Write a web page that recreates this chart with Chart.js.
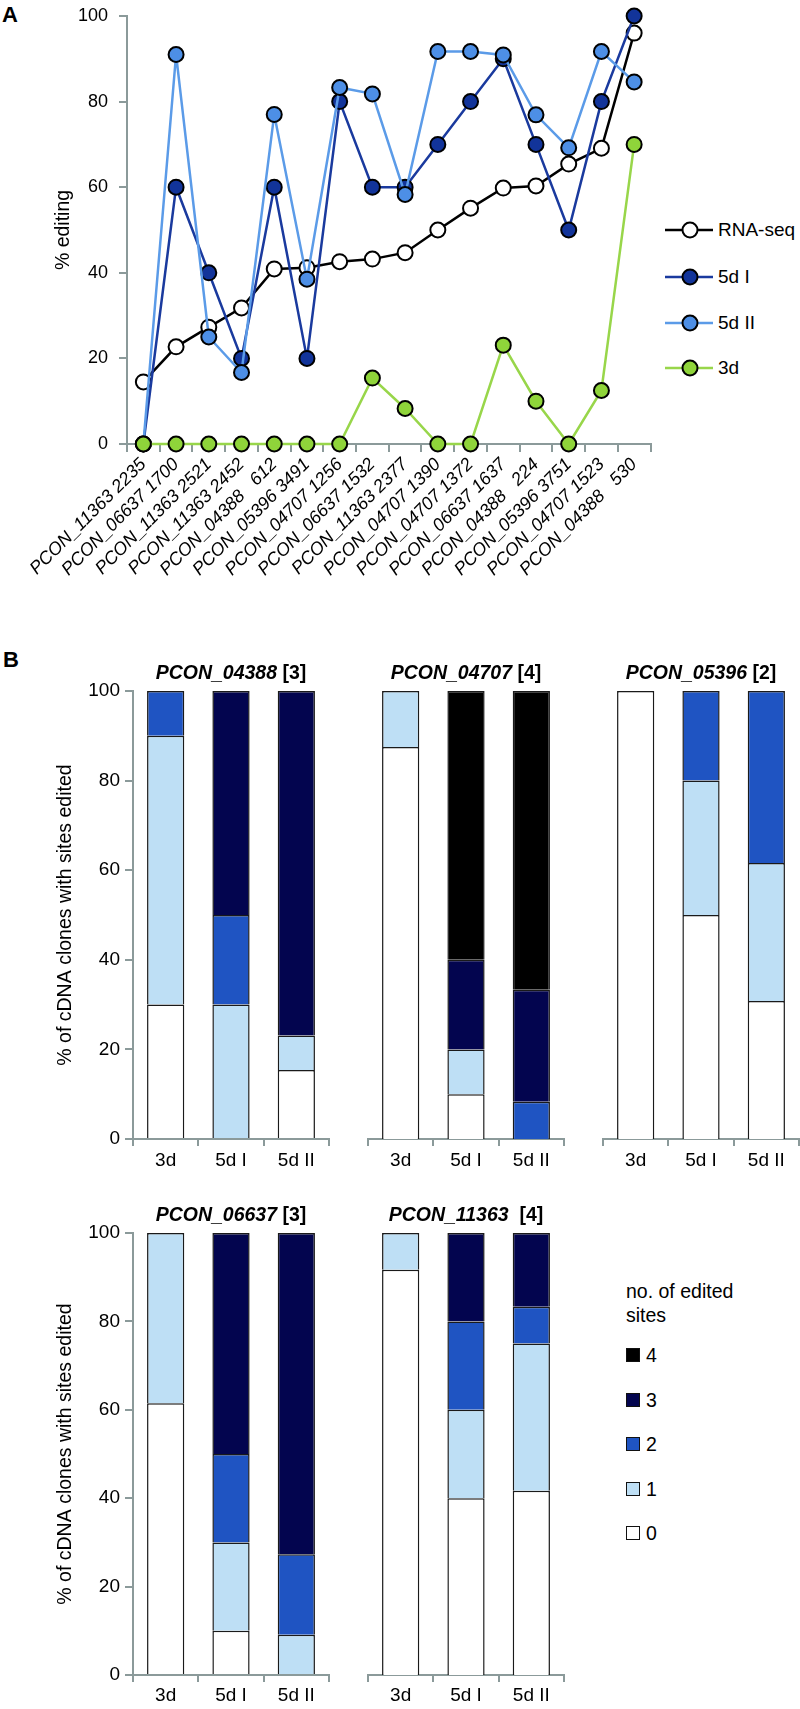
<!DOCTYPE html>
<html>
<head>
<meta charset="utf-8">
<script src="https://cdn.jsdelivr.net/npm/chart.js@4"></script>
<style>
  html, body { margin: 0; padding: 0; background: #fff; }
  body { width: 800px; height: 1709px; position: relative; overflow: hidden;
         font-family: 'Liberation Sans', Arial, Helvetica, sans-serif; color: #000; }
  canvas { position: absolute; }
  .panel { position: absolute; font-weight: bold; font-size: 22px; line-height: 22px; }
  .ttl { position: absolute; font-weight: bold; font-size: 19.5px; line-height: 24px;
         text-align: center; white-space: nowrap; }
  .leg { position: absolute; font-size: 19.5px; line-height: 24px; white-space: nowrap; }
  .legA { position: absolute; left: 665px; height: 24px; display: flex; align-items: center;
          font-size: 19px; white-space: nowrap; }
  .legA svg { display: block; margin-right: 5px; }
  .legB { position: absolute; left: 626px; height: 24px; display: flex; align-items: center;
          font-size: 19.5px; }
  .legB .sq { width: 12px; height: 12px; border: 1.5px solid #111; margin-right: 6px; }
</style>
</head>
<body>

<div class="panel" style="left:2px; top:4px;">A</div>
<div class="panel" style="left:3px; top:649px;">B</div>

<canvas id="chartA" width="660" height="580" style="left:0px; top:0px;"></canvas>
<div id="legendA"></div>

<canvas id="b04388" width="340" height="500" style="left:0px; top:680px;"></canvas>
<canvas id="b04707" width="216" height="500" style="left:358px; top:680px;"></canvas>
<canvas id="b05396" width="207" height="500" style="left:593px; top:680px;"></canvas>
<canvas id="b06637" width="340" height="487" style="left:0px; top:1222px;"></canvas>
<canvas id="b11363" width="216" height="487" style="left:358px; top:1222px;"></canvas>

<div class="ttl" style="left:133px; top:660px; width:196px;"><i>PCON_04388</i> [3]</div>
<div class="ttl" style="left:368px; top:660px; width:196px;"><i>PCON_04707</i> [4]</div>
<div class="ttl" style="left:603px; top:660px; width:196px;"><i>PCON_05396</i> [2]</div>
<div class="ttl" style="left:133px; top:1202px; width:196px;"><i>PCON_06637</i> [3]</div>
<div class="ttl" style="left:368px; top:1202px; width:196px;"><i>PCON_11363</i>&nbsp; [4]</div>

<div class="leg" style="left:626px; top:1279px;">no. of edited<br>sites</div>
<div id="legendB"></div>

<script>
// ---- Panel A: % editing per site ----
const siteLabels = [
    'PCON_11363 2235', 'PCON_06637 1700', 'PCON_11363 2521', 'PCON_11363 2452',
    'PCON_04388 \u2007612', 'PCON_05396 3491', 'PCON_04707 1256', 'PCON_06637 1532',
    'PCON_11363 2377', 'PCON_04707 1390', 'PCON_04707 1372', 'PCON_06637 1637',
    'PCON_04388 \u2007224', 'PCON_05396 3751', 'PCON_04707 1523', 'PCON_04388 \u2007530'
];
const rnaSeq  = [14.5, 22.7, 27.3, 31.8, 40.9, 41.2, 42.6, 43.2, 44.7, 50, 55.1, 59.8, 60.3, 65.4, 69.1, 96];
const fiveDI  = [0, 60, 40, 20, 60, 20, 80, 60, 60, 70, 80, 90, 70, 50, 80, 100];
const fiveDII = [0, 91, 25, 16.7, 77, 38.5, 83.3, 81.8, 58.3, 91.7, 91.7, 90.9, 76.9, 69.2, 91.7, 84.6];
const threeD  = [0, 0, 0, 0, 0, 0, 0, 15.4, 8.3, 0, 0, 23.1, 10, 0, 12.5, 70];

// ---- Panel B: % of clones by number of edited sites ----
const conditions = ['3d', '5d I', '5d II'];
const siteCounts = ['0', '1', '2', '3', '4'];
// each row = one site count (0..4), values for [3d, 5d I, 5d II]
const gene04388 = [[30, 0, 15.4], [60, 30, 7.7], [10, 20, 0], [0, 50, 76.9], [0, 0, 0]];
const gene04707 = [[87.5, 10, 0], [12.5, 10, 0], [0, 0, 8.3], [0, 20, 25], [0, 60, 66.7]];
const gene05396 = [[100, 50, 30.8], [0, 30, 30.8], [0, 20, 38.4], [0, 0, 0], [0, 0, 0]];
const gene06637 = [[61.5, 10, 0], [38.5, 20, 9.1], [0, 20, 18.2], [0, 50, 72.7], [0, 0, 0]];
const gene11363 = [[91.7, 40, 41.7], [8.3, 20, 33.3], [0, 20, 8.3], [0, 20, 16.7], [0, 0, 0]];

const siteColors = ['#ffffff', '#bedff5', '#1f54c2', '#03054f', '#000000'];
const AXIS = '#8b9a9a';

Chart.defaults.font.family = "'Liberation Sans', Arial, Helvetica, sans-serif";
Chart.defaults.color = '#000';
Chart.defaults.animation = false;

// 선 그래프 데이터셋
const seriesA = [
    { name: 'RNA-seq', data: rnaSeq,  line: '#000000', fill: '#ffffff', order: 3 },
    { name: '5d I',    data: fiveDI,  line: '#1a3a9e', fill: '#12349a', order: 2 },
    { name: '5d II',   data: fiveDII, line: '#5b9be8', fill: '#4d8fe6', order: 1 },
    { name: '3d',      data: threeD,  line: '#98d64a', fill: '#8fd43a', order: 0 }
];

new Chart(document.getElementById('chartA'), {
    type: 'line',
    data: {
        labels: siteLabels,
        datasets: seriesA.map(s => ({
            label: s.name,
            data: s.data,
            order: s.order,
            borderColor: s.line,
            borderWidth: 2.5,
            pointRadius: 7.5,
            pointBorderWidth: 2,
            pointBackgroundColor: s.fill,
            pointBorderColor: '#000',
            tension: 0,
            clip: false
        }))
    },
    options: {
        responsive: false,
        layout: { padding: { top: 16, right: 8, left: 0, bottom: 0 } },
        plugins: { legend: { display: false }, tooltip: { enabled: false } },
        scales: {
            x: {
                offset: true,
                grid: { offset: true, drawOnChartArea: false, color: AXIS, lineWidth: 2, tickLength: 8 },
                border: { color: AXIS, width: 2 },
                ticks: { autoSkip: false, maxRotation: 45, minRotation: 45, padding: 2,
                         font: { size: 18, style: 'italic' } },
                afterFit: s => { s.height = 136; s.paddingLeft = 0; s.paddingRight = 0; }
            },
            y: {
                min: 0, max: 100,
                ticks: { stepSize: 20, padding: 11, font: { size: 18 } },
                grid: { drawOnChartArea: false, color: AXIS, lineWidth: 2, tickLength: 8 },
                border: { color: AXIS, width: 2 },
                title: { display: true, text: '% editing', font: { size: 19.5 },
                         padding: { top: 52, bottom: 0 } },
                afterFit: s => { s.width = 127; s.paddingTop = 0; s.paddingBottom = 0; }
            }
        }
    }
});

// legend A
const legendYs = [230, 277, 323, 368];
const legendA = document.getElementById('legendA');
seriesA.forEach((s, i) => {
    const item = document.createElement('div');
    item.className = 'legA';
    item.style.top = (legendYs[i] - 12) + 'px';
    item.innerHTML =
        '<svg width="48" height="24"><line x1="0" y1="12" x2="48" y2="12" stroke="' + s.line +
        '" stroke-width="2.5"/><circle cx="25" cy="12" r="7.5" fill="' + s.fill +
        '" stroke="#000" stroke-width="2"/></svg><span>' + s.name + '</span>';
    legendA.appendChild(item);
});

// 막대 차트 (누적)
function barPanel(id, gene, showY, xHeight, labelPad) {
    const padLeft = showY ? 0 : 10;
    const canvas = document.getElementById(id);
    const padRight = canvas.width - padLeft - (showY ? 329 : 196);
    new Chart(canvas, {
        type: 'bar',
        data: {
            labels: conditions,
            datasets: siteCounts.map((c, i) => ({
                label: c,
                data: gene[i],
                backgroundColor: siteColors[i],
                borderColor: '#1a1a1a',
                borderWidth: 1.5,
                borderSkipped: 'start',
                barPercentage: 0.57,
                categoryPercentage: 1
            }))
        },
        options: {
            responsive: false,
            layout: { padding: { top: 11, right: padRight, left: padLeft, bottom: 0 } },
            plugins: { legend: { display: false }, tooltip: { enabled: false } },
            scales: {
                x: {
                    stacked: true,
                    offset: true,
                    grid: { offset: true, drawOnChartArea: false, color: AXIS, lineWidth: 2, tickLength: 7 },
                    border: { color: AXIS, width: 2 },
                    ticks: { padding: labelPad, font: { size: 19 } },
                    afterFit: s => { s.height = xHeight; s.paddingLeft = 0; s.paddingRight = 0; }
                },
                y: {
                    display: showY,
                    stacked: true,
                    min: 0, max: 100,
                    ticks: { stepSize: 20, padding: 5, font: { size: 19 } },
                    grid: { drawOnChartArea: false, color: AXIS, lineWidth: 2, tickLength: 8 },
                    border: { color: AXIS, width: 2 },
                    title: { display: true, text: '% of cDNA clones with sites edited',
                             font: { size: 19.5 }, padding: { top: 54, bottom: 0 } },
                    afterFit: s => {
                        s.width = showY ? 133 : 0;
                        s.paddingTop = 0; s.paddingBottom = 0;
                    }
                }
            }
        }
    });
}

barPanel('b04388', gene04388, true, 41, 3);
barPanel('b04707', gene04707, false, 41, 3);
barPanel('b05396', gene05396, false, 41, 3);
barPanel('b06637', gene06637, true, 34, 2);
barPanel('b11363', gene11363, false, 34, 2);

// legend B (4 at top, 0 at bottom)
const legendBYs = [1533, 1489, 1444, 1400, 1355];
const legendB = document.getElementById('legendB');
siteCounts.forEach((c, i) => {
    const item = document.createElement('div');
    item.className = 'legB';
    item.style.top = (legendBYs[i] - 12) + 'px';
    item.innerHTML = '<div class="sq" style="background:' + siteColors[i] + '"></div><span>' + c + '</span>';
    legendB.appendChild(item);
});
</script>
</body>
</html>
